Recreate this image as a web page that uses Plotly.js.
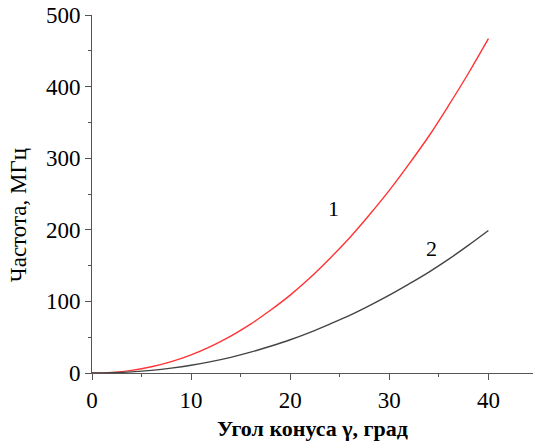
<!DOCTYPE html>
<html>
<head>
<meta charset="utf-8">
<script src="https://cdn.plot.ly/plotly-3.0.1.min.js"></script>
<style>html,body{margin:0;padding:0;background:#fff;}#chart{width:533px;height:441px;}</style>
</head>
<body>
<div id="chart"></div>
<script>
// Cone angle, degrees
const angle = [0, 2, 4, 6, 8, 10, 12, 14, 16, 18, 20, 22, 24, 26, 28, 30, 32, 34, 36, 38, 40];
// Curve 1 (red), MHz
const freq1 = [0, 0.9, 3.7, 8.7, 15.9, 25.4, 37.3, 51.5, 68.2, 87.6, 108.8, 133, 160, 189, 221, 255, 292, 331, 374, 419, 467];
// Curve 2 (dark gray), MHz
const freq2 = [0, 0.4, 1.6, 3.7, 6.8, 10.8, 15.9, 21.9, 29.1, 37.3, 46.4, 56.8, 68.3, 80.4, 94.1, 108.7, 124.5, 141, 159, 178.5, 199];
const curveLabels = [
  {text: '1', x: 24.4, y: 230},
  {text: '2', x: 34.3, y: 174}
];
const xTicks = [0, 10, 20, 30, 40];
const yTicks = [0, 100, 200, 300, 400, 500];
const xTitle = 'Угол конуса γ, град';
const yTitle = 'Частота, МГц';

const serif = 'Liberation Serif';
const f = (size) => ({family: serif, size: size, color: '#000'});
const traces = [
  {x: angle, y: freq1, type: 'scatter', mode: 'lines', line: {color: '#ff3333', width: 1.4, shape: 'spline'}, hoverinfo: 'skip'},
  {x: angle, y: freq2, type: 'scatter', mode: 'lines', line: {color: '#444444', width: 1.4, shape: 'spline'}, hoverinfo: 'skip'}
];
const annotations = curveLabels.map(l => ({
  text: l.text, x: l.x, y: l.y, xref: 'x', yref: 'y', showarrow: false, font: f(22)
}));
annotations.push({
  text: yTitle, xref: 'paper', yref: 'paper', x: -0.166, y: 0.44,
  xanchor: 'center', yanchor: 'middle', textangle: -90, showarrow: false, font: f(23)
});
const layout = {
  width: 533, height: 441,
  margin: {l: 92, r: 0, t: 15, b: 68},
  paper_bgcolor: '#fff', plot_bgcolor: '#fff',
  font: f(22),
  showlegend: false,
  xaxis: {
    range: [0, 44.5], showgrid: false, zeroline: false,
    showline: true, linecolor: '#555', linewidth: 1,
    tickmode: 'array', tickvals: xTicks, ticktext: xTicks.map(String),
    ticks: 'outside', ticklen: 6, tickcolor: '#555', tickwidth: 1,
    minor: {dtick: 5, tick0: 0, ticks: 'outside', ticklen: 3, tickcolor: '#555'},
    tickfont: f(23),
    title: {text: '<b>' + xTitle + '</b>', font: f(22), standoff: 9}
  },
  yaxis: {
    range: [0, 500], showgrid: false, zeroline: false,
    showline: true, linecolor: '#555', linewidth: 1,
    tickmode: 'array', tickvals: yTicks, ticktext: yTicks.map(String),
    ticks: 'outside', ticklen: 6, tickcolor: '#555', tickwidth: 1,
    minor: {dtick: 50, tick0: 0, ticks: 'outside', ticklen: 3, tickcolor: '#555'},
    tickfont: f(23)
  },
  annotations: annotations
};
Plotly.newPlot('chart', traces, layout, {staticPlot: true, displayModeBar: false});
</script>
</body>
</html>
